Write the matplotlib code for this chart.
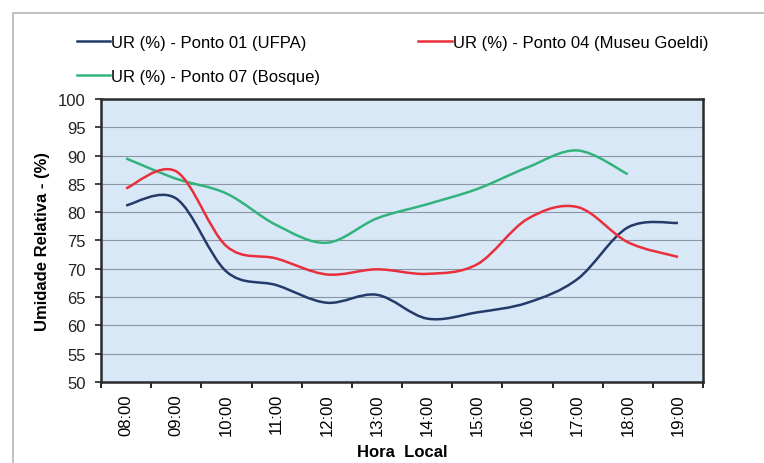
import matplotlib.pyplot as plt
import numpy as np
from matplotlib.path import Path
from matplotlib.patches import PathPatch
from matplotlib.lines import Line2D

plt.rcParams['font.family'] = ['Liberation Sans', 'DejaVu Sans']

horas = ['08:00', '09:00', '10:00', '11:00', '12:00', '13:00',
         '14:00', '15:00', '16:00', '17:00', '18:00', '19:00']
ur_ufpa = [81.2, 82.4, 69.5, 67.1, 64.0, 65.4, 61.2, 62.3, 64.0, 68.2, 77.3, 78.1]
ur_goeldi = [84.2, 87.2, 74.0, 71.8, 69.0, 69.9, 69.1, 70.8, 78.8, 80.9, 74.7, 72.1]
ur_bosque = [89.5, 85.9, 83.3, 77.7, 74.6, 78.9, 81.4, 84.1, 87.9, 90.9, 86.7]

series = [
    ('UR (%) - Ponto 01 (UFPA)', ur_ufpa, '#233a6b'),
    ('UR (%) - Ponto 07 (Bosque)', ur_bosque, '#33b37c'),
    ('UR (%) - Ponto 04 (Museu Goeldi)', ur_goeldi, '#ea2f3c'),
]


def smooth_path(y):
    # Excel-style smoothed line: cubic Bezier segments through the points
    x = np.arange(len(y), dtype=float)
    y = np.asarray(y, dtype=float)
    n = len(y)
    verts = [(x[0], y[0])]
    codes = [Path.MOVETO]
    for i in range(n - 1):
        p0 = max(i - 1, 0)
        p3 = min(i + 2, n - 1)
        c1 = (x[i] + (x[i + 1] - x[p0]) / 6, y[i] + (y[i + 1] - y[p0]) / 6)
        c2 = (x[i + 1] - (x[p3] - x[i]) / 6, y[i + 1] - (y[p3] - y[i]) / 6)
        verts += [c1, c2, (x[i + 1], y[i + 1])]
        codes += [Path.CURVE4] * 3
    return Path(verts, codes)


fig = plt.figure(figsize=(7.64, 4.64), dpi=100)
ax = fig.add_axes([0.1322, 0.1746, 0.788, 0.61])
ax.set_facecolor('#d9e8f6')

handles = []
for label, vals, color in series:
    ax.add_patch(PathPatch(smooth_path(vals), facecolor='none', edgecolor=color, lw=1.8, zorder=3))
    handles.append(Line2D([], [], color=color, lw=1.8, label=label))

ax.set_xlim(-0.5, len(horas) - 0.5)
ax.set_ylim(50, 100)
ax.set_yticks(np.arange(50, 101, 5))
ax.yaxis.grid(True, color='#8a96a3', lw=0.8)
ax.set_axisbelow(True)

ax.set_xticks(np.arange(len(horas)))
ax.set_xticklabels(horas, rotation=90, fontsize=12)
ax.set_xticks(np.arange(len(horas) + 1) - 0.5, minor=True)
ax.tick_params(axis='x', which='major', length=0, pad=8)
ax.tick_params(axis='x', which='minor', length=4, width=1.2)
ax.tick_params(axis='y', length=4, width=1.2, labelsize=12, pad=7, colors='#222222')

for s in ax.spines.values():
    s.set_color('#2b2b2b')
    s.set_linewidth(1.8)

ax.set_ylabel('Umidade Relativa - (%)', fontsize=12, fontweight='bold', labelpad=6)
ax.set_xlabel('Hora  Local', fontsize=12, fontweight='bold', labelpad=7)

fig.legend(handles=handles, ncol=2, loc='upper left', bbox_to_anchor=(0.092, 0.937),
           frameon=False, fontsize=12, handlelength=2.0, handletextpad=0.05,
           columnspacing=5.9, labelspacing=1.15, borderaxespad=0)

fig.patches.append(plt.Rectangle((0.017, -0.02), 1.0, 0.99, transform=fig.transFigure,
                                 fill=False, edgecolor='#b5b5b5', lw=1.2))

fig.savefig('out.png', dpi=100)
